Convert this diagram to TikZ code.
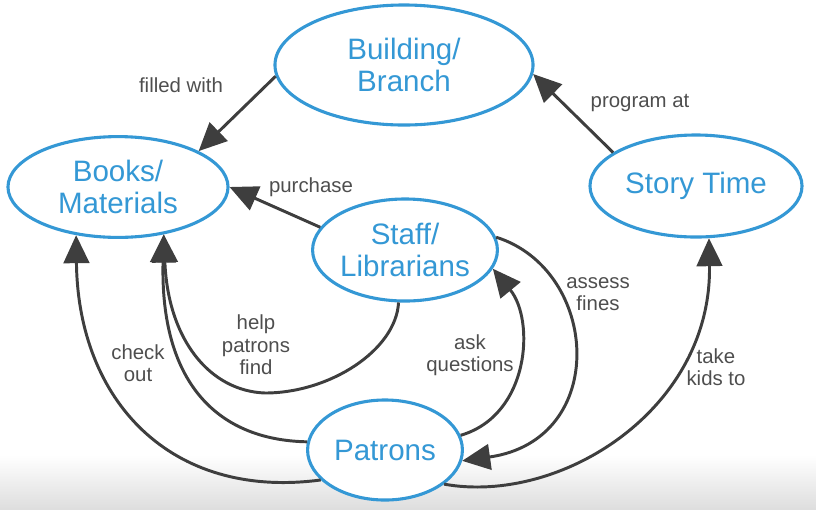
\documentclass[tikz,border=0pt]{standalone}
\usepackage{fontspec}
\setmainfont{Liberation Sans}
\usetikzlibrary{arrows.meta,shapes.geometric}
\definecolor{mapblue}{RGB}{52,152,213}
\definecolor{mapgray}{RGB}{62,62,62}
\definecolor{labelgray}{RGB}{78,78,78}

\begin{document}
\begin{tikzpicture}[
    x=0.025cm, y=-0.025cm,
    concept/.style={ellipse, draw=mapblue, line width=2.2pt, fill=white, text=mapblue,
      font=\fontsize{21}{23}\selectfont, align=center, inner sep=0pt},
    rel/.style={draw=mapgray, line width=2.1pt, -{Triangle[length=0.7cm, width=0.64cm]}},
    lbl/.style={text=labelgray, font=\fontsize{14.5}{16}\selectfont, align=center, inner sep=0pt}
  ]
    \useasboundingbox (0,0) rectangle (816,509);
    \shade[top color=white, bottom color=black!13] (0,455) rectangle (816,509);

    % concepts
    \node[concept, minimum width=6.45cm, minimum height=3.0cm] (branch) at (404,65) {Building/\\Branch};
    \node[concept, minimum width=5.5cm, minimum height=2.52cm] (books) at (118,187) {Books/\\Materials};
    \node[concept, minimum width=4.62cm, minimum height=2.55cm] (staff) at (405,250) {Staff/\\Librarians};
    \node[concept, minimum width=5.3cm, minimum height=2.55cm] (story) at (696,186) {Story Time};
    \node[concept, minimum width=3.87cm, minimum height=2.5cm] (patrons) at (385,450) {Patrons};

    % linking phrases
    \node[lbl] (filled) at (181,85) {filled with};
    \node[lbl] (program) at (640,103) {program at};
    \node[lbl] (purchase) at (311,187) {purchase};
    \node[lbl] (help) at (256,345) {help\\patrons\\find};
    \node[lbl] (checkout) at (138,363) {check\\out};
    \node[lbl] (ask) at (470,355) {ask\\questions};
    \node[lbl] (fines) at (598,294) {assess\\fines};
    \node[lbl] (kids) at (716,367) {take\\kids to};

    % relations
    \draw[rel] (branch.185) -- (books.24);
    \draw[rel] (story.158) -- (branch.-4);
    \draw[rel] (staff.165) -- (books.east);
    \draw[rel] (staff.263) .. controls (396,350) and (330,393) .. (265,393)
      .. controls (210,391) and (168,340) .. (books.-46);
    \draw[rel] (patrons.174) .. controls (215,440) and (160,380) .. (books.-46);
    \draw[rel] (patrons.205) .. controls (170,500) and (78,400) .. (books.-131);
    \draw[rel] (patrons.11) .. controls (530,415) and (535,320) .. (staff.-12);
    \draw[rel] (staff.8) .. controls (600,270) and (610,440) .. (patrons.-8);
    \draw[rel] (patrons.-30) .. controls (560,505) and (712,410) .. (story.-76);
  \end{tikzpicture}
\end{document}
